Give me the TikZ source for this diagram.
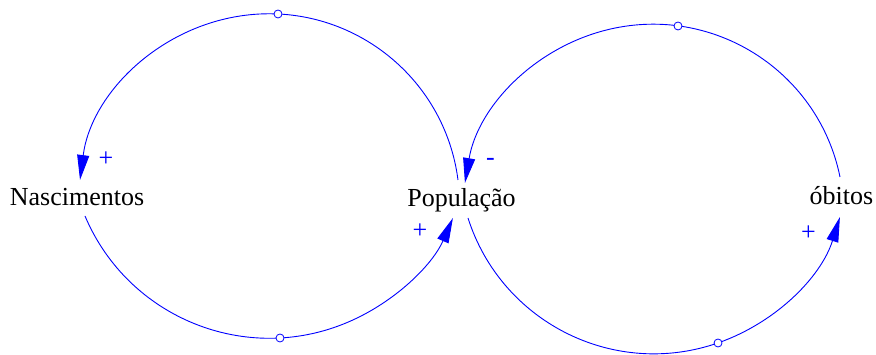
\documentclass[tikz,border=0pt]{standalone}
\usepackage{fontspec}
\setmainfont{Liberation Serif}
\usetikzlibrary{arrows.meta}
\begin{document}
\begin{tikzpicture}[x=1pt,y=-1pt,
  link/.style={draw=blue, line width=0.9pt, -{Triangle[length=25pt,width=12pt]}},
  handle/.style={circle, draw=blue, fill=white, line width=0.8pt, inner sep=0pt, minimum size=8pt},
  var/.style={font=\fontsize{26}{30}\selectfont, inner sep=0pt, anchor=base},
  sign/.style={font=\fontsize{26}{30}\selectfont, text=blue, inner sep=0pt}]
\useasboundingbox (0,0) rectangle (876,355);
% variables
\node[var] (nasc) at (77,206) {Nascimentos};
\node[var] (pop) at (461.5,207) {População};
\node[var] (obit) at (841.5,205) {óbitos};
% arc end points
\coordinate (a1s) at (458,180);
\coordinate (a2s) at (85,216);
\coordinate (a3s) at (840,177);
\coordinate (a4s) at (468,218);
% connectors
\draw[link] (a1s) arc[start angle=-7.34, end angle=-172.66, radius=190.56];
\draw[link] (a2s) arc[start angle=157.08, end angle=23.55, radius=200.2];
\draw[link] (a3s) arc[start angle=-11.49, end angle=-170.34, radius=190.8];
\draw[link] (a4s) arc[start angle=162.33, end angle=17.36, radius=195.0];
% handles
\node[handle] (h1) at (278,14) {};
\node[handle] (h2) at (280,338) {};
\node[handle] (h3) at (678,26) {};
\node[handle] (h4) at (718,343) {};
% polarity signs
\node[sign] (s1) at (106,159.5) {+};
\node[sign] (s2) at (420,231.5) {+};
\node[sign] (s3) at (490.5,162) {-};
\node[sign] (s4) at (808.5,233) {+};
\end{tikzpicture}
\end{document}
